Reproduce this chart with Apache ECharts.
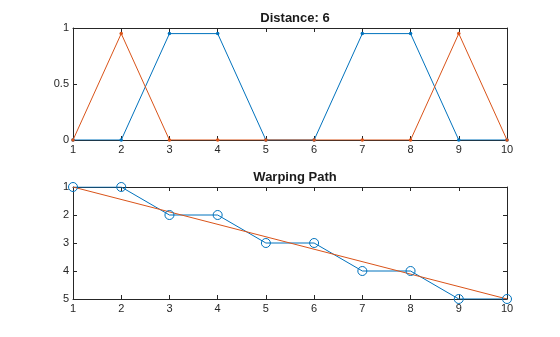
<!DOCTYPE html>
<html><head><meta charset="utf-8">
<script src="https://cdn.jsdelivr.net/npm/echarts@6/dist/echarts.min.js"></script>
<style>html,body{margin:0;padding:0;background:#fff}#c{width:560px;height:337px}</style>
</head><body><div id="c"></div>
<script>
const xIndex = [1,2,3,4,5,6,7,8,9,10];
const signalA = [0,0,0.95,0.95,0,0,0.95,0.95,0,0];
const signalB = [0,0.95,0,0,0,0,0,0,0.95,0];
const pathI = [1,2,3,4,5,6,7,8,9,10];
const pathJ = [1,1,2,2,3,3,4,4,5,5];
const diagX = [1,10];
const diagY = [1,5];
const topTitle = 'Distance: 6';
const bottomTitle = 'Warping Path';

const blue = '#0072BD', orange = '#D95319', axisC = '#262626';
const font = 'Liberation Sans, Arial, sans-serif';
const chart = echarts.init(document.getElementById('c'));
function xAx(gi, pos, labels){
  return {type:'value', gridIndex:gi, position:pos, min:1, max:10, interval:1,
    axisLine:{show:true, onZero:false, lineStyle:{color:axisC,width:1}},
    axisTick:{show:true, inside:true, length:4, lineStyle:{color:axisC}},
    axisLabel:{show:labels, color:axisC, fontFamily:font, fontSize:11, margin:4},
    splitLine:{show:false}};
}
function yAx(gi, pos, labels, min, max, iv, inv){
  return {type:'value', gridIndex:gi, position:pos, min:min, max:max, interval:iv, inverse:inv,
    axisLine:{show:true, onZero:false, lineStyle:{color:axisC,width:1}},
    axisTick:{show:true, inside:true, length:4, lineStyle:{color:axisC}},
    axisLabel:{show:labels, color:axisC, fontFamily:font, fontSize:11, margin:4},
    splitLine:{show:false}};
}
chart.setOption({
  animation:false,
  backgroundColor:'#fff',
  title:[
    {text:topTitle, left:290, top:7, textAlign:'center', textStyle:{fontFamily:font, fontSize:13, fontWeight:'bold', color:'#1a1a1a'}},
    {text:bottomTitle, left:290, top:166, textAlign:'center', textStyle:{fontFamily:font, fontSize:13, fontWeight:'bold', color:'#1a1a1a'}}
  ],
  grid:[
    {left:73, width:434, top:28, height:112},
    {left:73, width:434, top:187, height:112}
  ],
  xAxis:[xAx(0,'bottom',true), xAx(0,'top',false), xAx(1,'bottom',true), xAx(1,'top',false)],
  yAxis:[yAx(0,'left',true,0,1,0.5,false), yAx(0,'right',false,0,1,0.5,false),
         yAx(1,'left',true,1,5,1,true), yAx(1,'right',false,1,5,1,true)],
  series:[
    {type:'line', xAxisIndex:0, yAxisIndex:0, data:xIndex.map((x,i)=>[x,signalA[i]]),
     symbol:'circle', symbolSize:3.5, itemStyle:{color:blue}, lineStyle:{color:blue,width:1}},
    {type:'line', xAxisIndex:0, yAxisIndex:0, data:xIndex.map((x,i)=>[x,signalB[i]]),
     symbol:'circle', symbolSize:3.5, itemStyle:{color:orange}, lineStyle:{color:orange,width:1}},
    {type:'line', xAxisIndex:2, yAxisIndex:2, data:pathI.map((x,i)=>[x,pathJ[i]]),
     symbol:'circle', symbolSize:9, itemStyle:{color:'rgba(0,0,0,0)', borderColor:blue, borderWidth:1}, lineStyle:{color:blue,width:1}},
    {type:'line', xAxisIndex:2, yAxisIndex:2, data:diagX.map((x,i)=>[x,diagY[i]]),
     symbol:'none', lineStyle:{color:orange,width:1}}
  ]
});
</script></body></html>
